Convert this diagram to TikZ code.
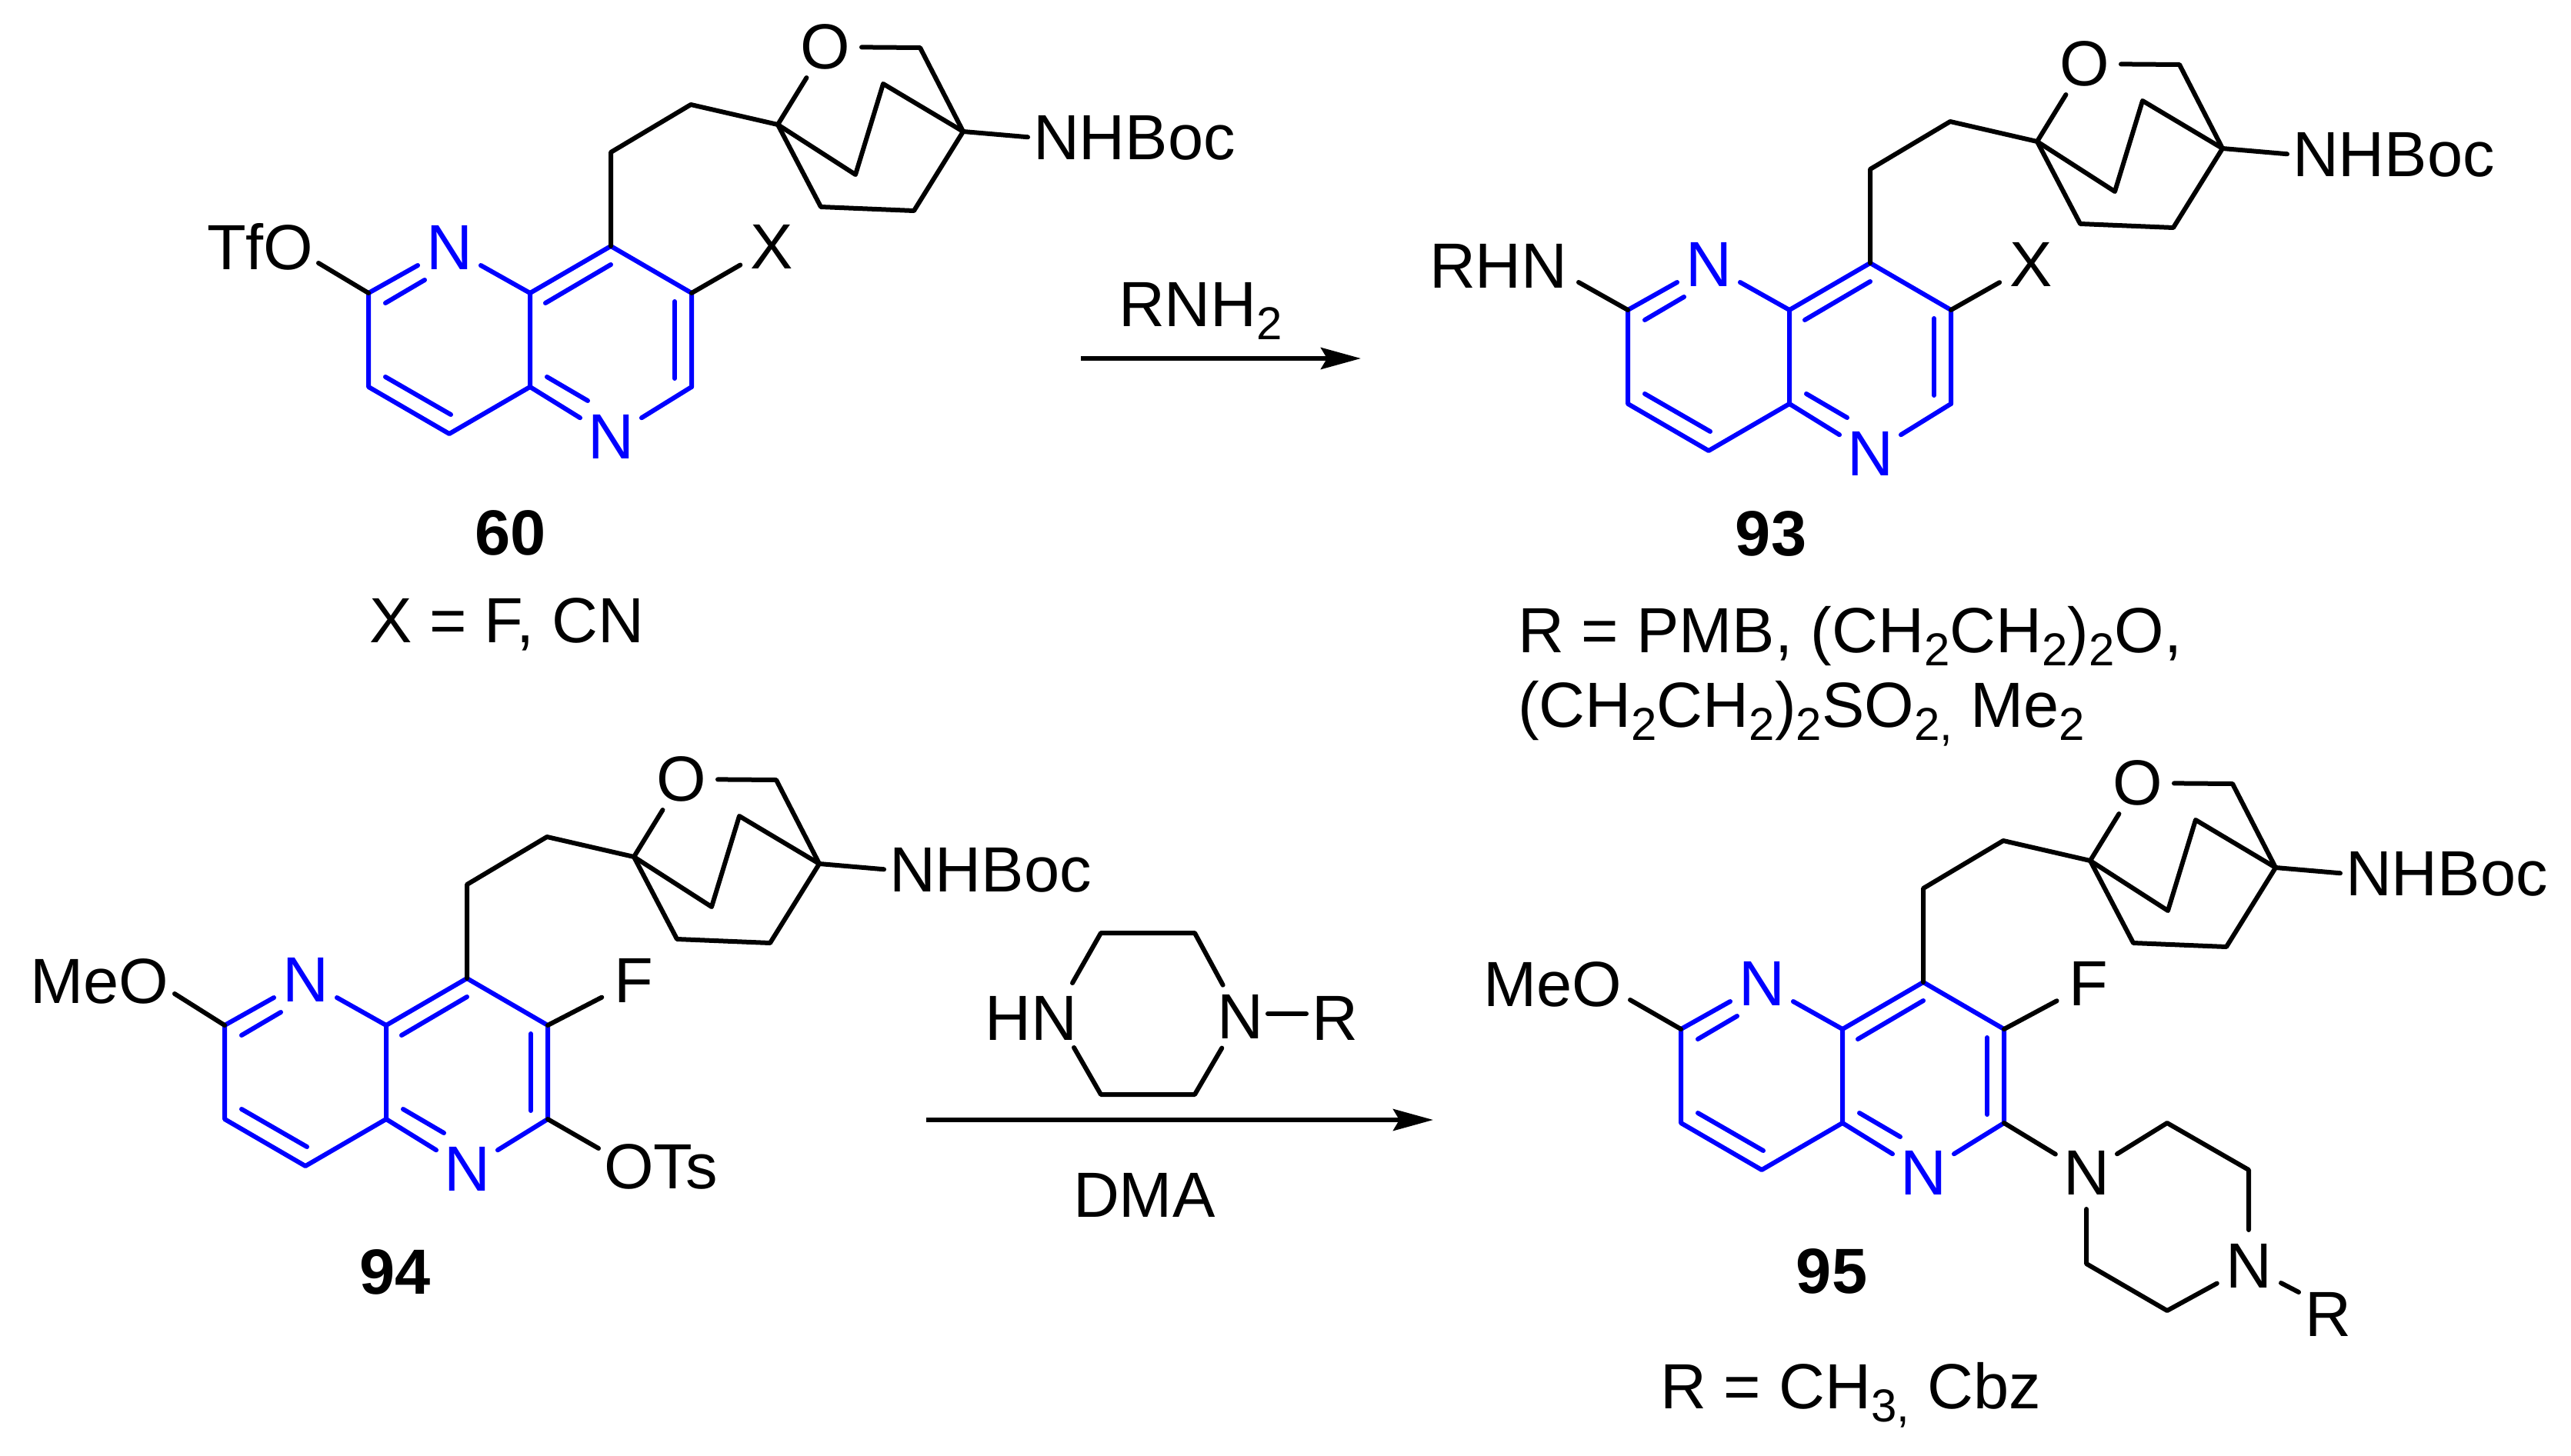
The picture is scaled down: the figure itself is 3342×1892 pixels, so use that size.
\documentclass[tikz,border=0pt]{standalone}
\usepackage{fontspec}
\setmainfont{Liberation Sans}
\usetikzlibrary{arrows.meta}
\newcommand{\subs}[1]{\raisebox{-17pt}{\fontsize{60}{60}\selectfont #1}}
\tikzset{
  x=1pt,y=-1pt,
  txt/.style={font=\fontsize{83}{90}\selectfont,inner sep=0pt,outer sep=0pt,text=black},
  lab/.style={txt,anchor=base west},
  cmpd/.style={txt,font=\fontsize{83}{90}\selectfont\bfseries},
  atom/.style={txt,circle,minimum size=94pt},
  batom/.style={atom,text=blue},
  bondk/.style={draw=black,line width=6pt,line cap=round,line join=round},
  bondb/.style={draw=blue,line width=6pt,line cap=round,line join=round},
  rxn/.style={draw=black,line width=6pt,-{Stealth[length=52pt,width=28pt,inset=8pt]}}
}
% #1 prefix, #2 #3 position of the ring-fusion carbon C8a
\newcommand{\scaffold}[3]{%
\begin{scope}[shift={(#2,#3)}]
  \coordinate (#1c2) at (-210,0);
  \coordinate (#1c8a) at (0,0);
  \coordinate (#1c4) at (105,-61);
  \coordinate (#1c3) at (210,0);
  \coordinate (#1c6) at (210,122);
  \coordinate (#1c4a) at (0,122);
  \coordinate (#1cb) at (-105,183);
  \coordinate (#1cl) at (-210,122);
  \node[batom] (#1n1) at (-105,-59) {N};
  \node[batom] (#1n5) at (105,187) {N};
  \coordinate (#1d1a) at (-188,13);  \coordinate (#1d1b) at (-137,-17);
  \coordinate (#1d2a) at (20,13);    \coordinate (#1d2b) at (105,-37);
  \coordinate (#1d3a) at (188,11);   \coordinate (#1d3b) at (188,111);
  \coordinate (#1d4a) at (22,109);   \coordinate (#1d4b) at (75,140);
  \coordinate (#1d5a) at (-188,109); \coordinate (#1d5b) at (-103,158);
  \path[bondb] (#1c2) -- (#1n1);
  \path[bondb] (#1n1) -- (#1c8a);
  \path[bondb] (#1c4) -- (#1c8a) -- (#1c4a);
  \path[bondb] (#1c4) -- (#1c3) -- (#1c6);
  \path[bondb] (#1c6) -- (#1n5);
  \path[bondb] (#1n5) -- (#1c4a);
  \path[bondb] (#1c4a) -- (#1cb) -- (#1cl) -- (#1c2);
  \path[bondb] (#1d1a) -- (#1d1b);
  \path[bondb] (#1d2a) -- (#1d2b);
  \path[bondb] (#1d3a) -- (#1d3b);
  \path[bondb] (#1d4a) -- (#1d4b);
  \path[bondb] (#1d5a) -- (#1d5b);
  \coordinate (#1e1) at (105,-183);
  \coordinate (#1e2) at (209,-245);
  \coordinate (#1a) at (322,-219);
  \node[atom] (#1o) at (384,-320) {O};
  \coordinate (#1ch) at (507,-319);
  \coordinate (#1b) at (563,-210);
  \coordinate (#1it) at (459,-272);
  \coordinate (#1ib) at (423,-154);
  \coordinate (#1lo) at (378,-112);
  \coordinate (#1lr) at (499,-107);
  \node[lab] (#1boc) at (654,-174) {NHBoc};
  \path[bondk] (#1c4) -- (#1e1) -- (#1e2) -- (#1a);
  \path[bondk] (#1a) -- (#1o);
  \path[bondk] (#1o) -- (#1ch) -- (#1b);
  \path[bondk] (#1a) -- (#1ib) -- (#1it) -- (#1b);
  \path[bondk] (#1a) -- (#1lo) -- (#1lr) -- (#1b);
  \path[bondk,shorten >=7pt] (#1b) -- (#1boc.west);
\end{scope}}
\begin{document}
\begin{tikzpicture}
\useasboundingbox (0,0) rectangle (3342,1892);

% ---- 60
\scaffold{p}{689}{381}
\node[lab] (ptfo) at (269,350) {TfO};
\coordinate (ptfoe) at (414,342);
\path[bondk] (pc2) -- (ptfoe);
\node[atom] (px) at (1003,321) {X};
\path[bondk] (pc3) -- (px);
\node[cmpd] (plabel) at (664,693) {60};
\node[lab] (pnote) at (480,835) {X = F, CN};

% ---- arrow 1
\coordinate (ar1s) at (1405,466);
\coordinate (ar1e) at (1769,466);
\path[rxn] (ar1s) -- (ar1e);
\node[lab] (ar1t) at (1454,424) {RNH\subs{2}};

% ---- 93
\scaffold{q}{2326}{403}
\node[lab] (qrhn) at (1858,374) {RHN};
\coordinate (qrhne) at (2052,367);
\path[bondk] (qc2) -- (qrhne);
\node[atom] (qx) at (2640,344) {X};
\path[bondk] (qc3) -- (qx);
\node[cmpd] (qlabel) at (2302,694) {93};
\node[lab] (qnote1) at (1973,848) {R = PMB, (CH\subs{2}CH\subs{2})\subs{2}O,};
\node[lab] (qnote2) at (1973,945) {(CH\subs{2}CH\subs{2})\subs{2}SO\subs{2,} Me\subs{2}};

% ---- 94
\scaffold{r}{502}{1333}
\node[lab] (rmeo) at (39,1304) {MeO};
\coordinate (rmeoe) at (227,1292);
\path[bondk] (rc2) -- (rmeoe);
\node[atom] (rf) at (824,1275) {F};
\path[bondk] (rc3) -- (rf);
\node[lab] (rots) at (785,1545) {OTs};
\coordinate (rotse) at (778,1493);
\path[bondk] (rc6) -- (rotse);
\node[cmpd] (rlabel) at (514,1654) {94};

% ---- piperazine reagent and arrow 2
\coordinate (z1) at (1431,1213);
\coordinate (z2) at (1553,1213);
\coordinate (z3) at (1553,1423);
\coordinate (z4) at (1431,1423);
\node[atom] (zn) at (1612,1322) {N};
\node[txt,anchor=base east] (zhn) at (1400,1352) {HN};
\coordinate (zhna) at (1394,1278);
\coordinate (zhnb) at (1396,1362);
\node[lab] (zr) at (1705,1352) {R};
\coordinate (zra) at (1648,1318);
\coordinate (zrb) at (1698,1318);
\path[bondk] (zhna) -- (z1) -- (z2) -- (zn);
\path[bondk] (zn) -- (z3) -- (z4) -- (zhnb);
\path[bondk] (zra) -- (zrb);
\coordinate (ar2s) at (1204,1456);
\coordinate (ar2e) at (1863,1456);
\path[rxn] (ar2s) -- (ar2e);
\node[lab] (dma) at (1395,1582) {DMA};

% ---- 95
\scaffold{s}{2395}{1338}
\node[lab] (smeo) at (1928,1308) {MeO};
\coordinate (smeoe) at (2119,1300);
\path[bondk] (sc2) -- (smeoe);
\node[atom] (sf) at (2715,1279) {F};
\path[bondk] (sc3) -- (sf);
\node[atom] (sp1) at (2712,1525) {N};
\node[atom] (sp4) at (2923,1646) {N};
\coordinate (sr1) at (2817,1460);
\coordinate (sr2) at (2923,1521);
\coordinate (sr3) at (2817,1704);
\coordinate (sr4) at (2712,1643);
\path[bondk] (sc6) -- (sp1);
\path[bondk] (sp1) -- (sr1) -- (sr2) -- (sp4);
\path[bondk] (sp4) -- (sr3) -- (sr4) -- (sp1);
\node[lab] (sr) at (2996,1737) {R};
\coordinate (sra) at (2965,1668);
\coordinate (srb) at (2988,1680);
\path[bondk] (sra) -- (srb);
\node[cmpd] (slabel) at (2381,1653) {95};
\node[lab] (snote) at (2158,1831) {R = CH\subs{3,} Cbz};
\end{tikzpicture}
\end{document}
